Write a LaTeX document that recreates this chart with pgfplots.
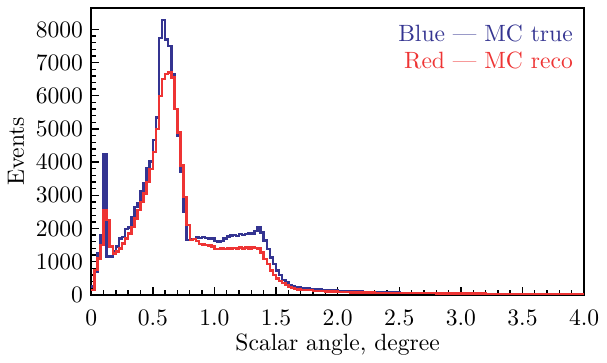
\documentclass[border=0pt]{standalone}
\usepackage{pgfplots}
\pgfplotsset{compat=1.18}
\definecolor{mcblue}{RGB}{52,52,145}
\definecolor{mcred}{RGB}{238,52,52}
\begin{document}
\fontsize{10.4}{12.5}\selectfont
\begin{tikzpicture}
\begin{axis}[
  scale only axis,
  width=217.5pt, height=126.6pt,
  xmin=0, xmax=4, ymin=0, ymax=8650,
  xtick={0,0.5,1,1.5,2,2.5,3,3.5,4},
  xticklabels={0,0.5,1.0,1.5,2.0,2.5,3.0,3.5,4.0},
  minor x tick num=4,
  ytick={0,1000,2000,3000,4000,5000,6000,7000,8000},
  yticklabels={0,1000,2000,3000,4000,5000,6000,7000,8000},
  minor y tick num=4,
  tick pos=left,
  tick align=inside,
  major tick length=3.5pt,
  minor tick length=2pt,
  every tick/.style={black, line width=0.6pt},
  axis line style={line width=0.8pt},
  xticklabel style={yshift=-3pt},
  xlabel={Scalar angle, degree},
  xlabel style={yshift=4pt},
  ylabel={Events},
  ylabel style={yshift=-2pt},
  clip=true,
]
\addplot[const plot, mcblue, line width=1.1pt] coordinates {
(0.000,250) (0.025,700) (0.050,1250) (0.075,1800) (0.100,4250) (0.125,1150)
(0.150,1150) (0.175,1300) (0.200,1450) (0.225,1700) (0.250,1750) (0.275,1980)
(0.300,2030) (0.325,2330) (0.350,2650) (0.375,2750) (0.400,3120) (0.425,3370)
(0.450,3820) (0.475,4020) (0.500,4670) (0.525,5350) (0.550,7750) (0.575,8280)
(0.600,7700) (0.625,7500) (0.650,6650) (0.675,5600) (0.700,4800) (0.725,3700)
(0.750,2500) (0.775,1650) (0.800,1680) (0.825,1680) (0.850,1730) (0.875,1720)
(0.900,1740) (0.925,1720) (0.950,1700) (0.975,1700) (1.000,1620) (1.025,1600)
(1.050,1620) (1.075,1700) (1.100,1760) (1.125,1790) (1.150,1800) (1.175,1780)
(1.200,1830) (1.225,1800) (1.250,1830) (1.275,1850) (1.300,1830) (1.325,1920)
(1.350,2030) (1.375,1880) (1.400,1640) (1.425,1380) (1.450,1130) (1.475,930)
(1.500,740) (1.525,590) (1.550,450) (1.575,380) (1.600,300) (1.625,270)
(1.650,240) (1.675,220) (1.700,205) (1.725,195) (1.750,190) (1.775,180)
(1.800,170) (1.825,160) (1.850,155) (1.875,150) (1.900,145) (1.925,140)
(1.950,130) (1.975,125) (2.000,120) (2.050,110) (2.100,100) (2.200,90)
(2.300,80) (2.400,70) (2.500,60) (2.600,50) (2.800,40) (3.000,30)
(3.300,20) (3.600,15) (4.000,15)
};
\addplot[const plot, mcred, line width=1.1pt] coordinates {
(0.000,150) (0.025,750) (0.050,1100) (0.075,1500) (0.100,2550) (0.125,2250)
(0.150,1450) (0.175,1250) (0.200,1300) (0.225,1400) (0.250,1550) (0.275,1700)
(0.300,1850) (0.325,2050) (0.350,2300) (0.375,2550) (0.400,2800) (0.425,3050)
(0.450,3400) (0.475,3800) (0.500,4300) (0.525,5000) (0.550,6000) (0.575,6500)
(0.600,6650) (0.625,6700) (0.650,6550) (0.675,5600) (0.700,4900) (0.725,3900)
(0.750,2950) (0.775,2100) (0.800,1650) (0.825,1680) (0.850,1620) (0.875,1530)
(0.900,1520) (0.925,1500) (0.950,1480) (0.975,1450) (1.000,1380) (1.025,1380)
(1.050,1400) (1.075,1380) (1.100,1400) (1.125,1390) (1.150,1410) (1.175,1400)
(1.200,1420) (1.225,1400) (1.250,1420) (1.275,1400) (1.300,1420) (1.325,1410)
(1.350,1400) (1.375,1280) (1.400,1080) (1.425,930) (1.450,740) (1.475,590)
(1.500,490) (1.525,420) (1.550,360) (1.575,300) (1.600,240) (1.625,200)
(1.650,170) (1.675,160) (1.700,150) (1.750,140) (1.800,120) (1.850,110)
(1.900,100) (2.000,85) (2.100,75) (2.300,60) (2.500,50) (2.800,40)
(3.200,30) (3.600,20) (4.000,20)
};
\node[anchor=east, text=mcblue, inner sep=0pt] at (rel axis cs:0.978,0.91) {Blue --- MC true};
\node[anchor=east, text=mcred, inner sep=0pt] at (rel axis cs:0.978,0.817) {Red --- MC reco};
\end{axis}
\path (current axis.north) ++(0,3.5pt) coordinate (topmargin);
\path (topmargin) -- (topmargin);
\end{tikzpicture}
\end{document}
